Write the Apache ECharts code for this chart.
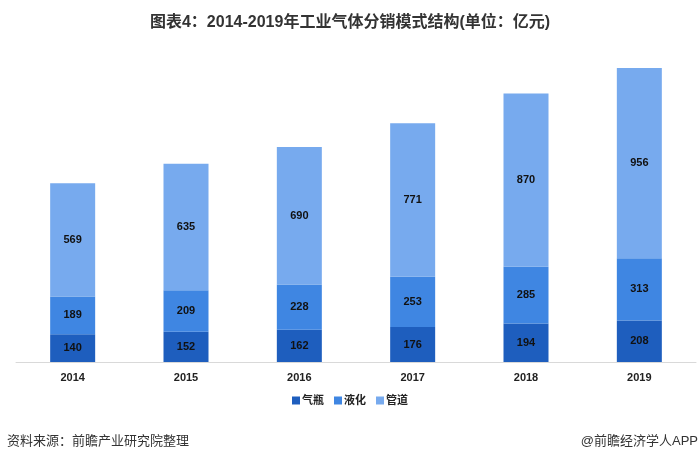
<!DOCTYPE html>
<html><head><meta charset="utf-8">
<script src="https://cdn.jsdelivr.net/npm/echarts@6/dist/echarts.min.js"></script>
<style>html,body{margin:0;padding:0;background:#fff}#c{width:700px;height:463px}</style>
</head><body><div id="c"></div>
<script>
var categories = ['2014','2015','2016','2017','2018','2019'];
var gasCylinder = [140,152,162,176,194,208];
var liquid = [189,209,228,253,285,313];
var pipeline = [569,635,690,771,870,956];
var seriesNames = ['气瓶','液化','管道'];
var colors = ['#1E5EBE','#3F86E2','#77AAEE'];
var FF = '"Liberation Sans","Noto Sans CJK SC",sans-serif';
var chart = echarts.init(document.getElementById('c'));
function mk(name, data, color){
  return {name:name,type:'bar',stack:'t',data:data,barWidth:45,
    itemStyle:{color:color},
    label:{show:true,position:'inside',color:'#111',fontSize:11,fontWeight:'bold',fontFamily:FF}};
}
chart.setOption({
  animation:false,
  title:{text:'图表4：2014-2019年工业气体分销模式结构(单位：亿元)',left:'center',top:10,
    textStyle:{fontSize:16,fontWeight:'bold',color:'#333',fontFamily:FF}},
  legend:{bottom:52,left:'center',itemWidth:8,itemHeight:8,itemGap:10,icon:'rect',
    textStyle:{fontSize:11,fontWeight:'bold',color:'#222',fontFamily:FF,padding:[0,0,0,-3]},
    data:seriesNames},
  grid:{left:16,right:4,top:43.6,bottom:101},
  xAxis:{type:'category',data:categories,
    axisLine:{lineStyle:{color:'#d9d9d9'}},axisTick:{show:false},
    axisLabel:{fontSize:11,fontWeight:'bold',color:'#222',margin:10,fontFamily:FF}},
  yAxis:{type:'value',min:0,max:1600,show:false,splitLine:{show:false}},
  series:[mk(seriesNames[0],gasCylinder,colors[0]),mk(seriesNames[1],liquid,colors[1]),mk(seriesNames[2],pipeline,colors[2])],
  graphic:[
    {type:'text',left:7,top:435,style:{text:'资料来源：前瞻产业研究院整理',fontSize:13,fill:'#333',fontFamily:FF}},
    {type:'text',right:2,top:435,style:{text:'@前瞻经济学人APP',fontSize:13,fill:'#333',fontFamily:FF}}
  ]
});
</script></body></html>
